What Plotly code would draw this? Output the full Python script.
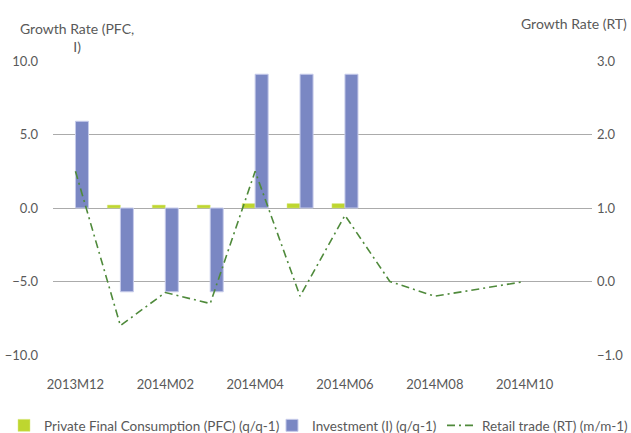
import plotly.graph_objects as go

months = ["2013M12", "2014M01", "2014M02", "2014M03", "2014M04", "2014M05",
          "2014M06", "2014M07", "2014M08", "2014M09", "2014M10", "2014M11"]
pfc = [None, 0.2, 0.2, 0.2, 0.3, 0.3, 0.3, None, None, None, None, None]
investment = [5.9, -5.7, -5.7, -5.7, 9.1, 9.1, 9.1, None, None, None, None, None]
retail = [1.5, -0.6, -0.15, -0.3, 1.5, -0.2, 0.9, 0.0, -0.2, -0.1, 0.0, None]
x_labels = months[::2]

FONT = "Lato"
TXT = "#595959"

fig = go.Figure()
fig.add_trace(go.Bar(x=months, y=pfc, name="Private Final Consumption (PFC) (q/q-1)",
                     marker=dict(color="#bed62f", line=dict(color="#dbe887", width=0.5)),
                     yaxis="y", legend="legend"))
fig.add_trace(go.Bar(x=months, y=investment, name="Investment (I) (q/q-1)",
                     marker=dict(color="#7a87c3", line=dict(color="#c6cbea", width=1)),
                     yaxis="y", legend="legend2"))
fig.add_trace(go.Scatter(x=months, y=retail, name="Retail trade (RT) (m/m-1)",
                         mode="lines", yaxis="y2", legend="legend3",
                         line=dict(color="#4f8a3b", width=1.6, dash="8px,4px,2px,4px")))

leg_common = dict(orientation="h", xanchor="left", y=-0.24, yanchor="middle",
                  font=dict(size=13.5, color=TXT), bgcolor="rgba(0,0,0,0)",
                  borderwidth=0, itemwidth=30)

fig.update_layout(
    width=631, height=433,
    margin=dict(l=53, r=39, t=61, b=78, autoexpand=False),
    paper_bgcolor="white", plot_bgcolor="white",
    font=dict(family=FONT, size=13, color=TXT),
    barmode="group", bargap=0.42, bargroupgap=0,
    showlegend=True,
    legend=dict(x=-0.0909, **leg_common),
    legend2=dict(x=0.4063, **leg_common),
    legend3=dict(x=0.7217, **leg_common),
    xaxis=dict(type="category", categoryorder="array", categoryarray=months,
               range=[-0.5, 11.5], tickmode="array", tickvals=x_labels,
               ticks="", showline=False, showgrid=False, zeroline=False,
               ticklabelstandoff=20, tickfont=dict(size=13, color=TXT)),
    xaxis2=dict(overlaying="x", anchor="free", position=0.5, type="linear",
                range=[-0.5, 11.5], tick0=-0.5, dtick=1, ticks="outside", ticklen=5,
                tickcolor="#8a8a8a", tickwidth=1, showticklabels=False,
                showline=True, linecolor="#878787", linewidth=2.5,
                showgrid=False, zeroline=False),
    yaxis=dict(range=[-10, 10], dtick=5, tickformat=".1f", showgrid=True,
               gridcolor="#ababab", gridwidth=1, zeroline=False, showline=False,
               ticks="", ticklabelstandoff=14, tickfont=dict(size=13, color=TXT)),
    yaxis2=dict(range=[-1, 3], dtick=1, tickformat=".1f", overlaying="y", side="right",
                showgrid=False, zeroline=False, showline=False, ticks="",
                ticklabelstandoff=4, tickfont=dict(size=13, color=TXT)),
    annotations=[
        dict(text="Growth Rate (PFC,<br>I)", xref="paper", yref="paper",
             x=0.0445, y=1.0, xanchor="center", yanchor="bottom", yshift=4,
             showarrow=False, align="center", font=dict(size=14, color=TXT)),
        dict(text="Growth Rate (RT)", xref="paper", yref="paper",
             x=1.0, y=1.0, xanchor="right", yanchor="middle", xshift=37, yshift=38,
             showarrow=False, font=dict(size=14, color=TXT)),
    ],
)

fig.write_html("out.html",
               config={"displayModeBar": False},
               post_script="document.body.style.margin='0px';document.body.style.overflow='hidden';")
